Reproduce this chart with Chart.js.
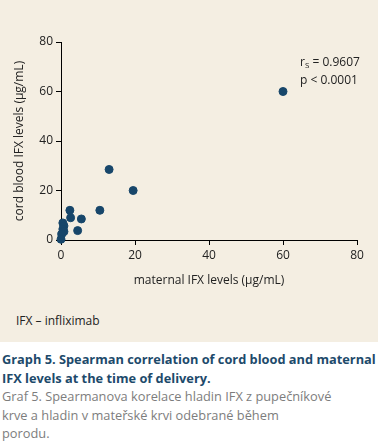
<!DOCTYPE html>
<html>
<head>
<meta charset="utf-8">
<script src="https://cdn.jsdelivr.net/npm/chart.js@4.4.0/dist/chart.umd.min.js"></script>
<style>
  body { margin: 0; background: #fff; font-family: "Open Sans", sans-serif; }
  #panel { position: relative; width: 378px; height: 342px; background: #f4eee2; }
  #chart-wrap { position: absolute; left: 0; top: 0; width: 378px; height: 300px; }
  #stats { position: absolute; left: 300px; top: 54px; font-size: 12px; line-height: 15px; color: #222; }
  #stats sub { font-size: 8px; vertical-align: -2px; }
  #abbr { position: absolute; left: 16px; top: 312px; font-size: 12px; color: #222; }
  #caption { padding: 8px 0 0 2px; font-size: 12.8px; line-height: 18.5px; }
  #caption .en { color: #1d4a6b; font-weight: bold; }
  #caption .cz { color: #7d7d7d; }
</style>
</head>
<body>
<div id="panel">
  <div id="chart-wrap"><canvas id="scatter"></canvas></div>
  <div id="stats">r<sub>S</sub> = 0.9607<br>p &lt; 0.0001</div>
  <div id="abbr">IFX – infliximab</div>
</div>
<div id="caption">
  <div class="en">Graph 5. Spearman correlation of cord blood and maternal IFX levels at the time of delivery.</div>
  <div class="cz">Graf 5. Spearmanova korelace hladin IFX z pupečníkové<br>krve a hladin v mateřské krvi odebrané během<br>porodu.</div>
</div>
<script>
// maternal vs cord blood IFX (µg/mL)
const maternalLevels = [60, 13, 19.5, 10.5, 2.4, 2.6, 5.5, 4.5, 0.5, 0.8, 0.5, 0.8, 0.2, 0];
const cordLevels     = [60, 28.5, 20, 12, 12, 9, 8.5, 3.8, 6.9, 5.7, 4.4, 3.4, 2.4, 0.3];
const xTicks = [0, 20, 40, 60, 80];
const yTicks = [0, 20, 40, 60, 80];

const points = maternalLevels.map((m, i) => ({ x: m, y: cordLevels[i] }));
const dotColor = '#17466a';
const tickFont = { family: 'Open Sans', size: 12 };

const ctx = document.getElementById('scatter').getContext('2d');
new Chart(ctx, {
  type: 'scatter',
  data: {
    datasets: [{
      data: points,
      backgroundColor: dotColor,
      borderColor: dotColor,
      pointRadius: 4,
      pointHoverRadius: 4,
      clip: false
    }]
  },
  options: {
    responsive: true,
    maintainAspectRatio: false,
    animation: false,
    layout: { padding: { top: 42, right: 21, bottom: 0, left: 0 } },
    plugins: { legend: { display: false }, tooltip: { enabled: false } },
    scales: {
      x: {
        type: 'linear',
        min: 0,
        max: 80,
        afterBuildTicks: s => { s.ticks = xTicks.map(v => ({ value: v })); },
        afterFit: s => { s.height = 60; },
        border: { color: '#000', width: 1 },
        grid: { drawOnChartArea: false, color: '#000', tickLength: 5 },
        ticks: { color: '#222', font: tickFont, padding: 3 },
        title: { display: true, text: 'maternal IFX levels (µg/mL)', color: '#222', font: tickFont, padding: { top: 12, bottom: 12 } }
      },
      y: {
        type: 'linear',
        min: 0,
        max: 80,
        afterBuildTicks: s => { s.ticks = yTicks.map(v => ({ value: v })); },
        afterFit: s => { s.width = 61; },
        border: { color: '#000', width: 1 },
        grid: { drawOnChartArea: false, color: '#000', tickLength: 5 },
        ticks: { color: '#222', font: tickFont, padding: 3 },
        title: { display: true, text: 'cord blood IFX levels (µg/mL)', color: '#222', font: tickFont, padding: { top: 12, bottom: 12 } }
      }
    }
  }
});
</script>
</body>
</html>
